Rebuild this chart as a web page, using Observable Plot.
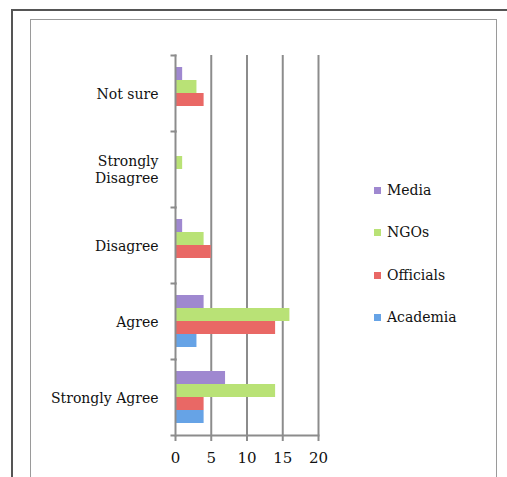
<!DOCTYPE html>
<html>
<head>
<meta charset="utf-8">
<script src="https://cdn.jsdelivr.net/npm/d3@7"></script>
<script src="https://cdn.jsdelivr.net/npm/@observablehq/plot@0.6"></script>
<style>
  html, body { margin: 0; padding: 0; background: #fff; }
  #wrap { position: relative; width: 507px; height: 477px; overflow: hidden; font-family: "DejaVu Serif", serif; }
  #outer { position: absolute; left: 11px; top: 9px; width: 520px; height: 500px; border-top: 2px solid #555; border-left: 2px solid #555; }
  #inner { position: absolute; left: 30px; top: 19px; width: 465px; height: 500px; border: 1px solid #9a9a9a; }
  #chart { position: absolute; left: 0; top: 0; }
  #legend { position: absolute; left: 374px; top: 180px; font-size: 14px; color: #111; }
  .item { position: absolute; left: 0; white-space: nowrap; line-height: 20px; }
  .sw { display: inline-block; width: 7px; height: 7px; margin-right: 6px; vertical-align: 1px; }
</style>
</head>
<body>
<div id="wrap">
  <div id="outer"></div>
  <div id="inner"></div>
  <div id="chart"></div>
  <div id="legend"></div>
</div>
<script>
const categories = ["Not sure", "Strongly Disagree", "Disagree", "Agree", "Strongly Agree"];
const seriesNames = ["Media", "NGOs", "Officials", "Academia"];
const colors = ["#9f88d0", "#b9e276", "#e96865", "#66a3e6"];
const media     = [1, 0, 1, 4, 7];
const ngos      = [3, 1, 4, 16, 14];
const officials = [4, 0, 5, 14, 4];
const academia  = [0, 0, 0, 3, 4];
const xTicks = [0, 5, 10, 15, 20];

const seriesValues = [media, ngos, officials, academia];
const data = [];
categories.forEach((c, i) => {
  seriesNames.forEach((s, j) => data.push({category: c, series: s, value: seriesValues[j][i]}));
});

const gray = "#8c8c8c";
const plot = Plot.plot({
  width: 507,
  height: 477,
  marginLeft: 175,
  marginRight: 189,
  marginTop: 53,
  marginBottom: 40,
  style: {fontFamily: "DejaVu Serif, serif", fontSize: "14px", color: "#111", background: "transparent"},
  x: {domain: [0, 20]},
  y: {domain: seriesNames, paddingInner: 0, paddingOuter: 0.85, axis: null},
  fy: {domain: categories, paddingInner: 0, paddingOuter: 0, label: null},
  color: {domain: seriesNames, range: colors},
  marks: [
    Plot.gridX(xTicks.filter(d => d > 0), {stroke: gray, strokeOpacity: 1, strokeWidth: 2}),
    Plot.barX(data, {x: "value", y: "series", fy: "category", fill: "series",
      style: "filter: drop-shadow(1px 2px 1px rgba(0,0,0,0.22))"}),
    Plot.frame({anchor: "left", stroke: gray, strokeWidth: 2}),
    Plot.frame({anchor: "top", stroke: gray, strokeWidth: 2, insetLeft: -4, insetRight: 143}),
    Plot.frame({anchor: "bottom", stroke: gray, strokeWidth: 2, insetLeft: -4, facetAnchor: "bottom"}),
    Plot.axisX({ticks: xTicks, tickSize: 6, tickPadding: 11, stroke: gray, strokeWidth: 2, label: null, fontSize: 15}),
    Plot.axisFy({anchor: "left", tickSize: 0, tickPadding: 17, label: null, fontSize: 14, lineHeight: 1.2,
      tickFormat: d => d === "Strongly Disagree" ? "Strongly\nDisagree" : d})
  ]
});
document.getElementById("chart").appendChild(plot);

const legend = document.getElementById("legend");
seriesNames.forEach((s, i) => {
  const div = document.createElement("div");
  div.className = "item";
  div.style.top = (i * 42.3) + "px";
  const sw = document.createElement("span");
  sw.className = "sw";
  sw.style.background = colors[i];
  div.appendChild(sw);
  div.appendChild(document.createTextNode(s));
  legend.appendChild(div);
});
</script>
</body>
</html>
